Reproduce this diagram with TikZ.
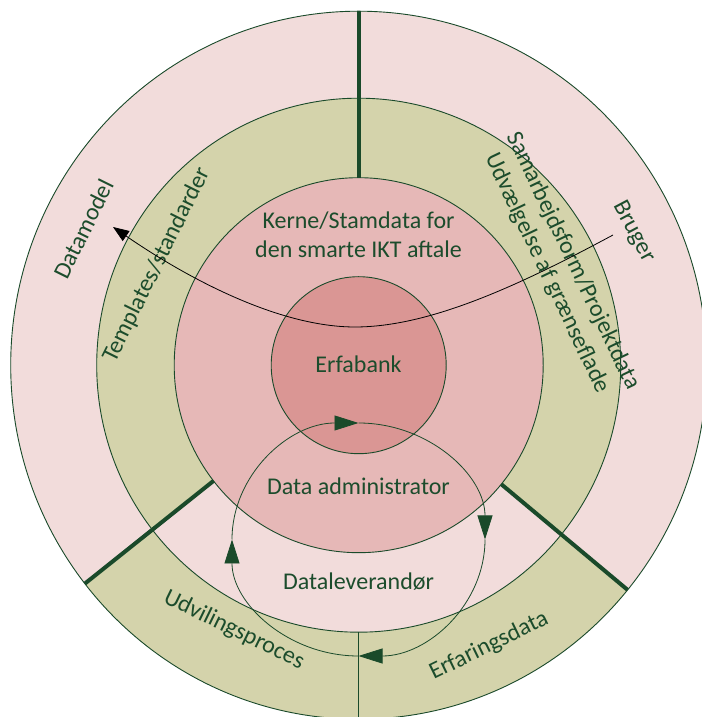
\documentclass[tikz,border=0pt]{standalone}
\usepackage{fontspec}
\setmainfont{Carlito}
\usetikzlibrary{arrows.meta}

\definecolor{ringline}{RGB}{26,74,42}
\definecolor{txtgreen}{RGB}{28,76,44}
\definecolor{palepink}{RGB}{242,220,219}
\definecolor{olive}{RGB}{212,211,171}
\definecolor{rose}{RGB}{230,184,183}
\definecolor{deeprose}{RGB}{218,150,148}

\begin{document}
\begin{tikzpicture}[x=1pt,y=1pt,
  ring/.style={draw=ringline, line width=0.9pt},
  divider/.style={draw=ringline, line width=4pt},
  thinline/.style={draw=ringline, line width=0.9pt},
  label/.style={text=txtgreen, font=\fontsize{24}{28.5}\selectfont, inner sep=0pt, align=center},
  flow/.style={draw=ringline, line width=0.8pt, -{Triangle[length=24pt,width=15pt,fill=ringline]}},
  pointer/.style={draw=black, line width=0.8pt, -{Triangle[length=16pt,width=12pt]}}]
\useasboundingbox (0,0) rectangle (701,717);

% centre of the rings and of the flow cycle
\coordinate (C) at (358.7,351.8);
\coordinate (D) at (358.5,177.5);

% ring fills
\fill[palepink] (C) ellipse [x radius=348pt, y radius=354pt];
\fill[olive] (C) ellipse [x radius=262pt, y radius=267pt];
% lower sector with swapped colours
\fill[olive] (C) -- ++(218.1:348pt and 354pt)
  arc[start angle=218.1, end angle=320.6, x radius=348pt, y radius=354pt] -- cycle;
\fill[palepink] (C) -- ++(218.1:262pt and 267pt)
  arc[start angle=218.1, end angle=320.6, x radius=262pt, y radius=267pt] -- cycle;
\fill[rose] (C) ellipse [x radius=184.5pt, y radius=187.5pt];
\fill[deeprose] (C) ellipse [x radius=87.5pt, y radius=88.5pt];

% ring outlines
\draw[ring] (C) ellipse [x radius=348pt, y radius=354pt];
\draw[ring] (C) ellipse [x radius=262pt, y radius=267pt];
\draw[ring] (C) ellipse [x radius=184.5pt, y radius=187.5pt];
\draw[ring] (C) ellipse [x radius=87.5pt, y radius=88.5pt];

% sector dividers
\path (C) ++(90:184.5pt and 187.5pt) coordinate (topin)
      (C) ++(90:348pt and 354pt) coordinate (topout)
      (C) ++(218.1:184.5pt and 187.5pt) coordinate (leftin)
      (C) ++(218.1:348pt and 354pt) coordinate (leftout)
      (C) ++(320.6:184.5pt and 187.5pt) coordinate (rightin)
      (C) ++(320.6:348pt and 354pt) coordinate (rightout)
      (C) ++(270:262pt and 267pt) coordinate (botin)
      (C) ++(270:348pt and 354pt) coordinate (botout);
\draw[divider] (topin) -- (topout);
\draw[divider] (leftin) -- (leftout);
\draw[divider] (rightin) -- (rightout);
\draw[thinline] (botin) -- (botout);

% clockwise flow cycle
\draw[flow] (D) ++(180:126.5pt and 116.5pt)
  arc[start angle=180, end angle=90, x radius=126.5pt, y radius=116.5pt];
\draw[flow] (D) ++(90:126.5pt and 116.5pt)
  arc[start angle=90, end angle=0, x radius=126.5pt, y radius=116.5pt];
\draw[flow] (D) ++(0:126.5pt and 116.5pt)
  arc[start angle=0, end angle=-90, x radius=126.5pt, y radius=116.5pt];
\draw[flow] (D) ++(-90:126.5pt and 116.5pt)
  arc[start angle=-90, end angle=-180, x radius=126.5pt, y radius=116.5pt];

% labels
\node[label] (kerne) at (358.5,482) {Kerne/Stamdata for\\den smarte IKT aftale};
\node[label, anchor=base] (erfa) at (358.5,344) {Erfabank};
\node[label, anchor=base] (admin) at (358.5,222) {Data administrator};
\node[label, anchor=base] (lev) at (358.5,127) {Dataleverandør};
\node[label, rotate=63.7] (datamodel) at (83.5,488) {Datamodel};
\node[label, rotate=63.6] (templ) at (157,452) {Templates/standarder};
\node[label, rotate=-64.5] (samarb) at (560,450) {Samarbejdsform/Projektdata\\Udvælgelse af grænseflade};
\node[label, rotate=-62] (bruger) at (634,485) {Bruger};
\node[label, rotate=-26] (udv) at (234,87) {Udvilingsproces};
\node[label, rotate=26] (erf) at (489,71) {Erfaringsdata};

% user path from Bruger towards Datamodel
\coordinate (bstart) at (613,482);
\coordinate (bend) at (113,490);
\draw[pointer] (bstart) .. controls (520,432) and (430,390) .. (355,390)
  .. controls (280,390) and (190,437) .. (bend);
\end{tikzpicture}
\end{document}
